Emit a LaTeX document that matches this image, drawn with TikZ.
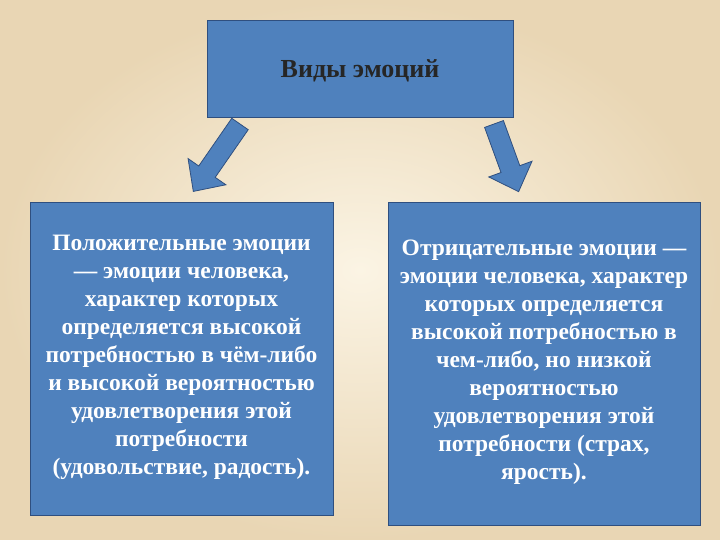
\documentclass[tikz,border=0pt]{standalone}
\usepackage{fontspec}
\setmainfont{Liberation Serif}
\definecolor{boxblue}{HTML}{4F81BD}
\definecolor{boxedge}{HTML}{2F4F7F}
\definecolor{bgin}{HTML}{FBF4E4}
\definecolor{bgout}{HTML}{E9D6B4}
\tikzset{
  box/.style={draw=boxedge, line width=1.2pt, fill=boxblue, anchor=north west, inner sep=0pt},
  boxtext/.style={font=\bfseries\fontsize{23.5}{28}\selectfont, text=white, align=center},
  blockarrow/.style={draw=boxedge, fill=boxblue, line width=0.8pt, line join=miter}
}
\begin{document}
\begin{tikzpicture}[x=1pt,y=-1pt]
\shade[inner color=bgin, outer color=bgout] (0,0) rectangle (720,540);
\useasboundingbox (0,0) rectangle (720,540);
\node[box, minimum width=306pt, minimum height=97pt] (top) at (207,20) {};
\node[font=\bfseries\fontsize{26}{30}\selectfont, text=black!85] (title) at (360,71) {Виды эмоций};
\node[box, minimum width=303pt, minimum height=313pt] (left) at (30,202) {};
\node[box, minimum width=312pt, minimum height=323pt] (right) at (388,202) {};
\node[boxtext] (lt) at (181.5,357) {Положительные эмоции\\— эмоции человека,\\характер которых\\определяется высокой\\потребностью в чём-либо\\и высокой вероятностью\\удовлетворения этой\\потребности\\(удовольствие, радость).};
\node[boxtext] (rt) at (544,362) {Отрицательные эмоции —\\эмоции человека, характер\\которых определяется\\высокой потребностью в\\чем-либо, но низкой\\вероятностью\\удовлетворения этой\\потребности (страх,\\ярость).};
\draw[blockarrow, shift={(240,124)}, rotate=235.3]
  (0,-10) -- (58,-10) -- (58,-23) -- (82,0) -- (58,23) -- (58,10) -- (0,10) -- cycle;
\draw[blockarrow, shift={(494,124)}, rotate=-70]
  (0,-10) -- (48,-10) -- (48,-23) -- (72,0) -- (48,23) -- (48,10) -- (0,10) -- cycle;
\end{tikzpicture}
\end{document}
